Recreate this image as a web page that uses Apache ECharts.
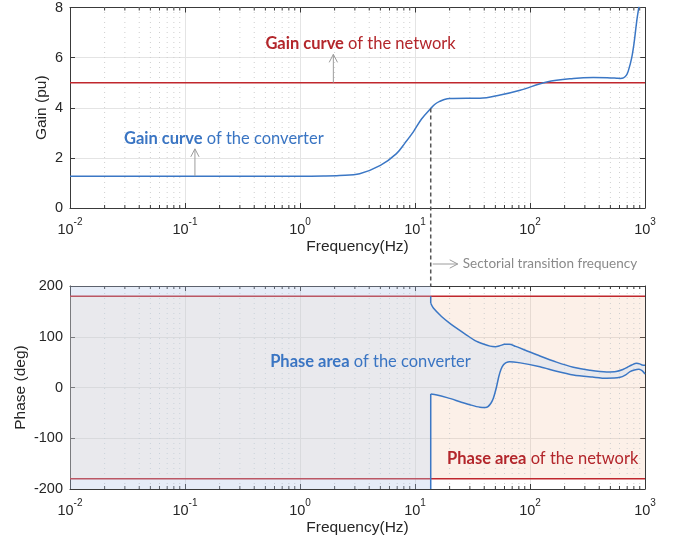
<!DOCTYPE html>
<html>
<head>
<meta charset="utf-8">
<script src="https://cdn.jsdelivr.net/npm/echarts@6/dist/echarts.min.js"></script>
<style>
  html, body { margin: 0; padding: 0; background: #ffffff; }
  #chart { width: 679px; height: 544px; }
</style>
</head>
<body>
<div id="chart"></div>
<script>
// ---- Axis ranges and ticks ----
const freqMin = 0.01;
const freqMax = 1000;
const gainRange = [0, 8];
const gainStep = 2;
const phaseRange = [-200, 200];
const phaseStep = 100;

// ---- Converter gain curve (pu) ----
const gainFreq = [0.01, 0.1, 1, 1.6, 2.2, 3.3, 5, 6.9, 8.2, 9.7, 11.4, 13.7, 15, 16.5, 18, 20, 28, 36.7, 55, 82, 140, 238, 355, 470, 567, 607, 650, 690, 716, 766, 807, 847, 887];
const gainConverter = [1.27, 1.27, 1.27, 1.28, 1.30, 1.37, 1.70, 2.17, 2.6, 3.05, 3.55, 3.97, 4.15, 4.26, 4.33, 4.37, 4.38, 4.38, 4.51, 4.70, 5.03, 5.17, 5.21, 5.20, 5.18, 5.17, 5.19, 5.30, 5.47, 5.99, 6.65, 7.45, 8.04];

// ---- Network gain level (pu) ----
const gainNetwork = 5;

// ---- Sectorial transition frequency (Hz) ----
const transitionFreq = 13.7;

// ---- Converter phase area boundaries above the transition frequency (deg) ----
const upperFreq = [13.7, 14.5, 17, 20.1, 24, 28.1, 33, 39.3, 45, 50, 55, 60, 66, 75, 90, 122, 170, 238, 330, 464, 560, 648, 700, 766, 847, 900, 943, 1000];
const phaseUpper = [166, 156, 140, 126.5, 114, 103.4, 93, 85.7, 81.5, 80.5, 82.5, 85, 85, 81, 74, 62, 50, 40, 34, 30.6, 31.5, 35.9, 39.5, 44.3, 47.7, 46.5, 44.3, 43.7];
const lowerFreq = [13.7, 15.5, 19, 24.6, 30, 36.7, 41, 43.1, 46, 48, 51, 53.5, 56, 58.6, 62, 66.5, 80, 122, 170, 238, 350, 464, 607, 680, 741, 810, 880, 943, 1000];
const phaseLower = [-13, -14.7, -20, -27.9, -34, -39, -39.5, -37.8, -30, -21.3, 0, 21.3, 36, 44.3, 49, 50.9, 49, 41, 32, 24.7, 20.5, 18.2, 20, 25, 31.2, 34.5, 35.9, 33.2, 26.6];

// Ends of the vertical step of the converter area at the transition frequency (deg)
const stepTop = 180;
const stepBottom = -200;

// ---- Network phase area limits (deg) ----
const networkPhaseLimits = [-180, 180];

// ---- Styling ----
const AXIS_FONT = "'Liberation Sans', Arial, sans-serif";
const NOTE_FONT = "Lato, 'Open Sans', sans-serif";
const AXIS_COLOR = '#3a3a3a';
const TEXT_COLOR = '#262626';
const BLUE = '#3b77c5';
const RED = '#c0272d';
const NOTE_RED = '#b3262b';
const NOTE_BLUE = '#3a75c3';
const ARROW_GREY = '#9c9c9c';

const zip = (xs, ys) => xs.map((x, i) => [x, ys[i]]);

// Minor decade positions 2..9 x 10^k
const minorFreqs = [];
for (let k = Math.round(Math.log10(freqMin)); k < Math.round(Math.log10(freqMax)); k++) {
  for (let m = 2; m <= 9; m++) minorFreqs.push(m * Math.pow(10, k));
}

const chart = echarts.init(document.getElementById('chart'), null, { renderer: 'canvas' });

const grids = [
  { left: 70, top: 6, width: 575, height: 202 },
  { left: 70, top: 286, width: 575, height: 203 }
];

function freqAxis(gridIndex, position, withLabels) {
  return {
    type: 'log', logBase: 10, gridIndex, position,
    min: freqMin, max: freqMax,
    axisLine: { show: true, onZero: false, lineStyle: { color: AXIS_COLOR, width: 1 } },
    axisTick: { show: true, inside: true, length: 5, lineStyle: { color: AXIS_COLOR } },
    axisLabel: {
      show: withLabels,
      margin: 9,
      formatter: v => '{b|10}{s|' + Math.round(Math.log10(v)) + '}',
      rich: {
        b: { fontFamily: AXIS_FONT, fontSize: 14.5, color: TEXT_COLOR, lineHeight: 20, verticalAlign: 'bottom' },
        s: { fontFamily: AXIS_FONT, fontSize: 10, color: TEXT_COLOR, lineHeight: 10, verticalAlign: 'top' }
      }
    },
    splitLine: { show: withLabels, lineStyle: { color: '#e4e4e4', width: 1 } },
    name: withLabels ? 'Frequency(Hz)' : '',
    nameLocation: 'middle',
    nameGap: 31,
    nameMoveOverlap: false,
    nameTextStyle: { fontFamily: AXIS_FONT, fontSize: 15.5, color: TEXT_COLOR }
  };
}

function valueAxis(gridIndex, position, range, step, name, nameGap) {
  const left = position === 'left';
  return {
    type: 'value', gridIndex, position,
    min: range[0], max: range[1], interval: step,
    axisLine: { show: true, onZero: false, lineStyle: { color: AXIS_COLOR, width: 1 } },
    axisTick: { show: true, inside: true, length: 5, lineStyle: { color: AXIS_COLOR } },
    axisLabel: { show: left, margin: 7, fontFamily: AXIS_FONT, fontSize: 14.5, color: TEXT_COLOR },
    splitLine: { show: left, lineStyle: { color: '#e4e4e4', width: 1 } },
    name: left ? name : '',
    nameLocation: 'middle',
    nameGap: nameGap,
    nameMoveOverlap: false,
    nameTextStyle: { fontFamily: AXIS_FONT, fontSize: 15.5, color: TEXT_COLOR }
  };
}

// Dotted minor grid and inner minor ticks along the frequency axes
function minorGrid(axisIdx, range) {
  return {
    type: 'custom', xAxisIndex: axisIdx, yAxisIndex: axisIdx, z: 2, silent: true,
    data: [[1, range[0]]],
    renderItem: (params, api) => {
      const children = [];
      minorFreqs.forEach(f => {
        const p0 = api.coord([f, range[0]]);
        const p1 = api.coord([f, range[1]]);
        children.push({ type: 'line', shape: { x1: p0[0], y1: p0[1], x2: p1[0], y2: p1[1] },
          style: { stroke: '#cfcfcf', lineWidth: 1, lineDash: [1, 4] } });
        children.push({ type: 'line', shape: { x1: p0[0], y1: p0[1], x2: p0[0], y2: p0[1] - 3 },
          style: { stroke: AXIS_COLOR, lineWidth: 1 } });
        children.push({ type: 'line', shape: { x1: p1[0], y1: p1[1], x2: p1[0], y2: p1[1] + 3 },
          style: { stroke: AXIS_COLOR, lineWidth: 1 } });
      });
      return { type: 'group', children };
    }
  };
}

// Filled polygons in data space
function areaSeries(axisIdx, z, polys) {
  return {
    type: 'custom', xAxisIndex: axisIdx, yAxisIndex: axisIdx, z, silent: true,
    data: [[1, 0]],
    renderItem: (params, api) => ({
      type: 'group',
      children: polys.map(p => ({
        type: 'polygon',
        shape: { points: p.points.map(pt => api.coord(pt)) },
        style: { fill: p.fill }
      }))
    })
  };
}

const clampPhase = v => Math.max(networkPhaseLimits[0], Math.min(networkPhaseLimits[1], v));

const upperPts = zip(upperFreq, phaseUpper);
const lowerPts = zip(lowerFreq, phaseLower);

// Converter phase area: everything below the transition frequency, the band between the curves above it
const converterInner = [
  [freqMin, networkPhaseLimits[1]], [transitionFreq, networkPhaseLimits[1]],
  ...upperPts,
  ...lowerPts.slice().reverse(),
  [transitionFreq, networkPhaseLimits[0]], [freqMin, networkPhaseLimits[0]]
].map(p => [p[0], clampPhase(p[1])]);
const converterOuterTop = [
  [freqMin, networkPhaseLimits[1]], [transitionFreq, networkPhaseLimits[1]],
  [transitionFreq, phaseRange[1]], [freqMin, phaseRange[1]]
];
const converterOuterBottom = [
  [freqMin, phaseRange[0]], [transitionFreq, phaseRange[0]],
  [transitionFreq, networkPhaseLimits[0]], [freqMin, networkPhaseLimits[0]]
];
const networkArea = [
  [freqMin, networkPhaseLimits[0]], [freqMax, networkPhaseLimits[0]],
  [freqMax, networkPhaseLimits[1]], [freqMin, networkPhaseLimits[1]]
];

function lineSeries(axisIdx, data, color, z, smooth, width) {
  return {
    type: 'line', xAxisIndex: axisIdx, yAxisIndex: axisIdx, z,
    data, showSymbol: false, symbol: 'none', smooth: smooth, clip: true, silent: true,
    lineStyle: { color, width: width || 1.5 }
  };
}

const option = {
  animation: false,
  backgroundColor: '#ffffff',
  grid: grids,
  xAxis: [
    freqAxis(0, 'bottom', true), freqAxis(0, 'top', false),
    freqAxis(1, 'bottom', true), freqAxis(1, 'top', false)
  ],
  yAxis: [
    valueAxis(0, 'left', gainRange, gainStep, 'Gain (pu)', 20),
    valueAxis(0, 'right', gainRange, gainStep, '', 0),
    valueAxis(1, 'left', phaseRange, phaseStep, 'Phase (deg)', 41),
    valueAxis(1, 'right', phaseRange, phaseStep, '', 0)
  ],
  series: [
    // Gain plot
    minorGrid(0, gainRange),
    lineSeries(0, [[freqMin, gainNetwork], [freqMax, gainNetwork]], RED, 3, false),
    lineSeries(0, zip(gainFreq, gainConverter), BLUE, 5, 0.35),
    // Phase plot
    areaSeries(2, 1, [{ points: networkArea, fill: 'rgba(240,180,140,0.2)' }]),
    minorGrid(2, phaseRange),
    lineSeries(2, [[freqMin, networkPhaseLimits[1]], [freqMax, networkPhaseLimits[1]]], RED, 3, false),
    lineSeries(2, [[freqMin, networkPhaseLimits[0]], [freqMax, networkPhaseLimits[0]]], RED, 3, false),
    areaSeries(2, 4, [
      { points: converterInner, fill: 'rgba(190,218,250,0.3)' },
      { points: converterOuterTop, fill: 'rgba(172,192,228,0.3)' },
      { points: converterOuterBottom, fill: 'rgba(172,192,228,0.3)' }
    ]),
    lineSeries(2, [[transitionFreq, stepTop], upperPts[0]], BLUE, 5, false),
    lineSeries(2, [[transitionFreq, stepBottom], lowerPts[0]], BLUE, 5, false),
    lineSeries(2, upperPts, BLUE, 5, 0.3),
    lineSeries(2, lowerPts, BLUE, 5, 0.3)
  ]
};

chart.setOption(option);

// ---- Annotations placed from data coordinates ----
const toPx = (g, x, y) => chart.convertToPixel(g === 0 ? { xAxisIndex: 0, yAxisIndex: 0 } : { xAxisIndex: 2, yAxisIndex: 2 }, [x, y]);

function arrow(p0, p1, color) {
  const ang = Math.atan2(p1[1] - p0[1], p1[0] - p0[0]);
  const L = 9, a = 0.48;
  const h1 = [p1[0] - L * Math.cos(ang - a), p1[1] - L * Math.sin(ang - a)];
  const h2 = [p1[0] - L * Math.cos(ang + a), p1[1] - L * Math.sin(ang + a)];
  return [
    { type: 'polyline', z: 20, shape: { points: [p0, p1] }, style: { stroke: color, lineWidth: 1, fill: null } },
    { type: 'polyline', z: 20, shape: { points: [h1, p1, h2] }, style: { stroke: color, lineWidth: 1, fill: null } }
  ];
}

function note(p, bold, rest, color, size) {
  return {
    type: 'text', z: 20, x: p[0], y: p[1],
    style: {
      text: '{b|' + bold + '}{n|' + rest + '}',
      align: 'left', verticalAlign: 'middle',
      rich: {
        b: { fontFamily: NOTE_FONT, fontSize: size, fontWeight: 'bold', fill: color, color: color },
        n: { fontFamily: NOTE_FONT, fontSize: size, fontWeight: 'normal', fill: color, color: color }
      }
    }
  };
}

const transitionGain = gainConverter[gainFreq.indexOf(transitionFreq)];
const dashTop = toPx(0, transitionFreq, transitionGain);
const dashBottom = toPx(1, transitionFreq, phaseRange[1]);
const sectY = dashBottom[1] - 22;

const graphics = [
  { type: 'line', z: 20, shape: { x1: dashTop[0], y1: dashTop[1], x2: dashBottom[0], y2: dashBottom[1] },
    style: { stroke: '#555555', lineWidth: 1.5, lineDash: [4, 3] } },
  ...arrow([dashTop[0] + 2, sectY], [dashTop[0] + 27, sectY], ARROW_GREY),
  { type: 'text', z: 20, x: dashTop[0] + 32, y: sectY,
    style: { text: 'Sectorial transition frequency', fontFamily: NOTE_FONT, fontSize: 13.5, fill: '#8a8a8a', align: 'left', verticalAlign: 'middle' } },
  ...arrow(toPx(0, 1.95, gainNetwork), toPx(0, 1.95, 6.13), ARROW_GREY),
  ...arrow(toPx(0, 0.122, gainConverter[0]), toPx(0, 0.122, 2.36), ARROW_GREY),
  note(toPx(0, 0.5, 6.57), 'Gain curve', ' of the network', NOTE_RED, 16.5),
  note(toPx(0, 0.0295, 2.77), 'Gain curve', ' of the converter', NOTE_BLUE, 16.5),
  note(toPx(1, 0.55, 50), 'Phase area', ' of the converter', NOTE_BLUE, 16.5),
  note(toPx(1, 19, -141), 'Phase area', ' of the network', NOTE_RED, 16.5)
];

chart.setOption({ graphic: graphics });
</script>
</body>
</html>
